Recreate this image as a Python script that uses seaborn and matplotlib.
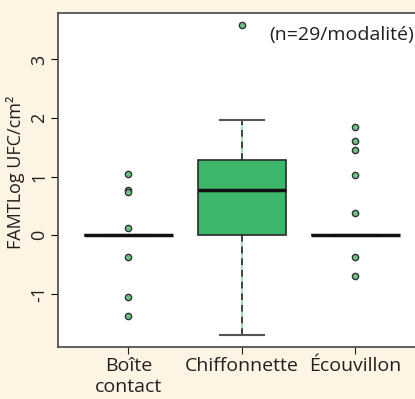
import pandas as pd
import matplotlib.pyplot as plt
import seaborn as sns
import numpy as np

categories = ["Boîte\ncontact", "Chiffonnette", "Écouvillon"]

# 29 values per modality (log UFC/cm²)
boite = [1.04, 0.78, 0.73, 0.13, -0.38, -1.05, -1.38] + [0.0] * 22
chiffonnette = [-1.7, -1.1, -0.6, -0.3, 0.0, 0.0, 0.0, 0.0, 0.2, 0.35, 0.45, 0.55, 0.65, 0.72,
                0.78, 0.85, 0.92, 1.0, 1.08, 1.15, 1.22, 1.29, 1.38, 1.5, 1.62, 1.75, 1.86, 1.97, 3.58]
ecouvillon = [1.85, 1.6, 1.45, 1.03, 0.38, -0.38, -0.7] + [0.0] * 22

ytick_vals = [-1, 0, 1, 2, 3]

df = pd.DataFrame({
    "modalite": np.repeat(categories, 29),
    "valeur": boite + chiffonnette + ecouvillon,
})

bg = "#fdf4e3"
green = "#3cb76a"
edge = "#2b2b2b"
txt = "#231f20"
fs = 14

plt.rcParams["font.family"] = ["Open Sans", "DejaVu Sans"]
fig = plt.figure(figsize=(4.15, 3.99), dpi=100, facecolor=bg)
ax = fig.add_axes([0.14, 0.13, 0.875, 0.837])
ax.set_facecolor("white")

sns.boxplot(data=df, x="modalite", y="valeur", order=categories, ax=ax,
            color=green, width=0.78, whis=1.5, saturation=1,
            boxprops=dict(edgecolor=edge, linewidth=1.2),
            medianprops=dict(color="#111111", linewidth=2.5),
            whiskerprops=dict(color=edge, linewidth=1.2, linestyle=(0, (4, 3))),
            capprops=dict(color="#555555", linewidth=1.5),
            flierprops=dict(marker="o", markerfacecolor="#6cc486", markeredgecolor="#333333",
                            markersize=4.5, markeredgewidth=1.0))

# light green under the dashed whiskers
for c in ax.containers:
    for w in c.whiskers:
        ax.plot(w.get_xdata(), w.get_ydata(), color="#8ddba5", lw=1.2, zorder=w.get_zorder() - 0.1)

ax.set_xlim(-0.62, 2.58)
ax.set_ylim(-1.91, 3.79)
ax.set_yticks(ytick_vals)
ax.set_yticklabels([str(v) for v in ytick_vals], rotation=90, va="center", fontsize=13, color=txt)
ax.tick_params(axis="x", labelsize=fs, colors=txt, length=5, pad=2)
ax.tick_params(axis="y", length=5, pad=2)
ax.set_xlabel("")
ax.set_ylabel("FAMTLog UFC/cm²", fontsize=13, color=txt)
ax.yaxis.set_label_coords(-0.09, 0.524)
ax.spines["right"].set_visible(False)
for s in ["left", "bottom", "top"]:
    ax.spines[s].set_color("#444444")
    ax.spines[s].set_linewidth(1.2)

fig.text(0.998, 0.912, "(n=29/modalité)", ha="right", va="center", fontsize=fs, color=txt)

fig.savefig("out.png", dpi=100, facecolor=bg)
